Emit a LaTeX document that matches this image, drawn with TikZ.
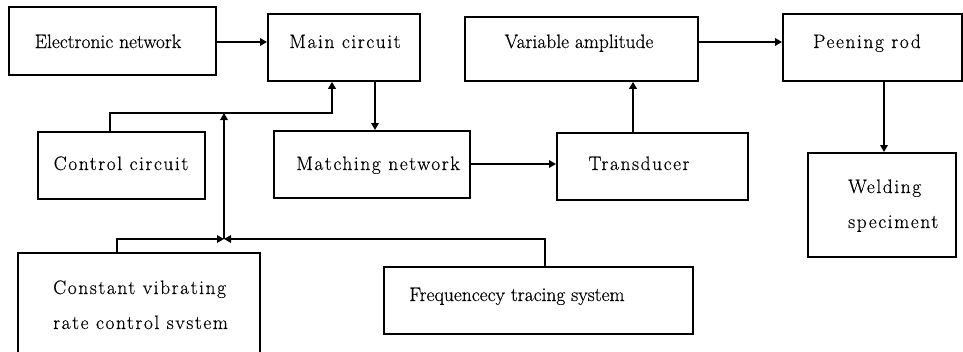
\documentclass[tikz,border=0pt]{standalone}
\usepackage{fontspec}
\newfontfamily\plainf{Latin Modern Roman}[FakeBold=0.4]
\newfontfamily\spf{Latin Modern Roman}[LetterSpace=8,FakeBold=0.4]
\usetikzlibrary{arrows.meta}
\begin{document}
\begin{tikzpicture}[x=1pt,y=-1pt,
  box/.style={draw, line width=1.8pt, inner sep=0pt, anchor=north west},
  lbl/.style={font=\plainf\fontsize{19.5}{23}\selectfont, inner sep=0pt, anchor=base},
  sp/.style={font=\spf\fontsize{19.5}{23}\selectfont, inner sep=0pt, anchor=base},
  conn/.style={line width=1.8pt},
  arr/.style={conn, -{Triangle[length=7pt,width=7.5pt]}}]
\useasboundingbox (0,0) rectangle (963,351);
\clip (0,0) rectangle (963,351);
% boxes
\node[box, minimum width=207pt, minimum height=68pt] (en) at (8,6) {};
\node[box, minimum width=152pt, minimum height=67pt] (mc) at (267,13) {};
\node[box, minimum width=167pt, minimum height=67pt] (cc) at (37,131) {};
\node[box, minimum width=196pt, minimum height=67pt] (mn) at (273,130) {};
\node[box, minimum width=233pt, minimum height=64pt] (va) at (464,16) {};
\node[box, minimum width=179pt, minimum height=67pt] (pr) at (782,13) {};
\node[box, minimum width=191pt, minimum height=67pt] (tr) at (556,132) {};
\node[box, minimum width=148pt, minimum height=104pt] (ws) at (807,152) {};
\node[box, minimum width=242pt, minimum height=130pt] (cvr) at (17,252) {};
\node[box, minimum width=309pt, minimum height=67pt] (fts) at (383,266) {};
% texts
\node[lbl] (t-en) at (108,48) {Electronic network};
\node[sp] (t-mc) at (345,48) {Main circuit};
\node[sp] (t-cc) at (121,170) {Control circuit};
\node[sp] (t-mn) at (378,170) {Matching network};
\node[lbl] (t-va) at (579,48) {Variable amplitude};
\node[sp] (t-pr) at (867,48) {Peening rod};
\node[sp] (t-tr) at (639,170) {Transducer};
\node[sp, anchor=base west] (t-ws1) at (848,193) {Welding};
\node[sp, anchor=base west] (t-ws2) at (848,228) {speciment};
\node[sp, anchor=base west] (t-cvr1) at (53,294) {Constant vibrating};
\node[sp, anchor=base west] (t-cvr2) at (53,329) {rate control svstem};
\node[lbl] (t-fts) at (517,301) {Frequencecy tracing system};
% junctions
\coordinate (jb) at (224,239);
\coordinate (jt) at (224,113);
% connectors
\draw[arr] (en.east |- 0,42) -- (mc.west |- 0,42);
\draw[arr] (mc.south -| 375,0) -- (mn.north -| 375,0);
\draw[arr] (cc.north -| 110,0) -- (110,113) -- (332,113) -- (mc.south -| 332,0);
\draw[arr] (jb) -- (jt);
\draw[arr] (cvr.north -| 117,0) |- (jb);
\draw[arr] (fts.north -| 545,0) |- (jb);
\draw[arr] (mn.east |- 0,164) -- (tr.west |- 0,164);
\draw[arr] (tr.north -| 633,0) -- (va.south -| 633,0);
\draw[arr] (va.east |- 0,42) -- (pr.west |- 0,42);
\draw[arr] (pr.south -| 884,0) -- (ws.north -| 884,0);
\end{tikzpicture}
\end{document}
